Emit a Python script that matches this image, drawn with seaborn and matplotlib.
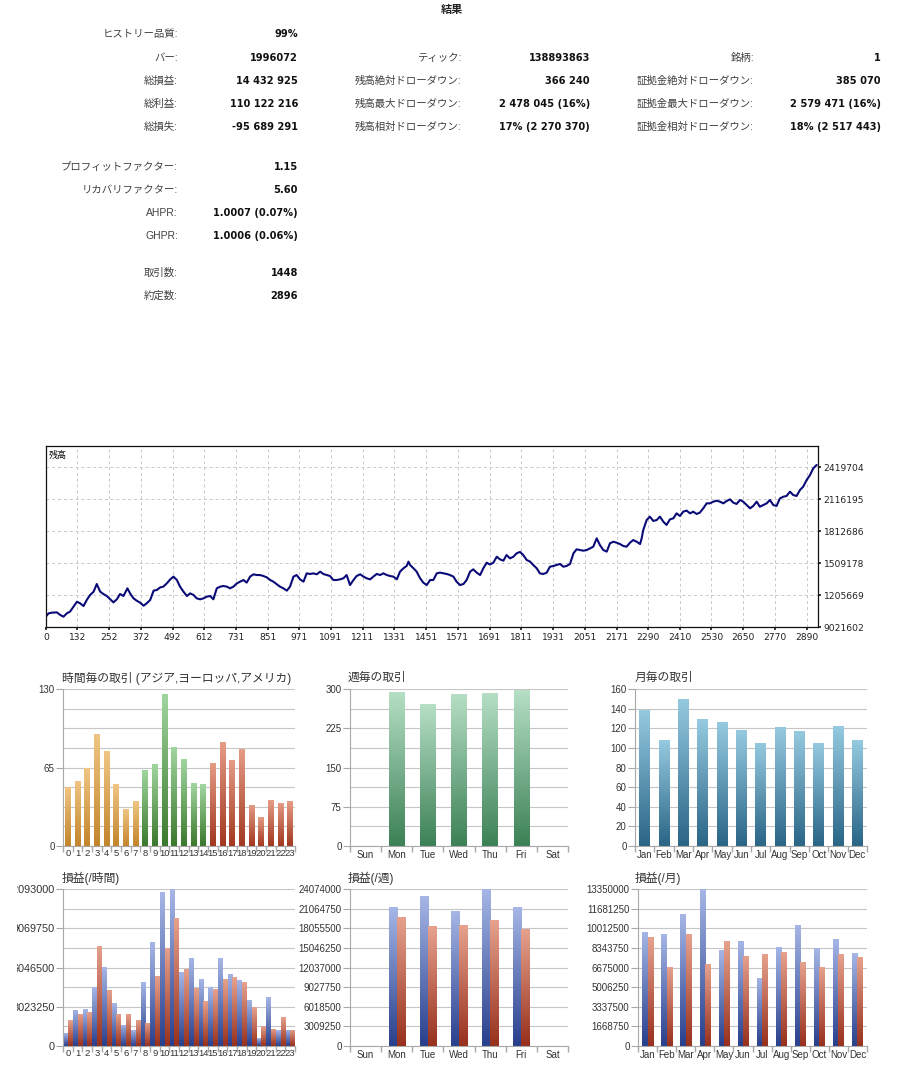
import numpy as np
import pandas as pd
import matplotlib
matplotlib.use("Agg")
import matplotlib.pyplot as plt
import seaborn as sns
from matplotlib.colors import LinearSegmentedColormap
from matplotlib.transforms import Bbox, TransformedBbox

# ==========================
# DATA
# ==========================

col1_labels = ["ヒストリー品質:", "バー:", "総損益:", "総利益:", "総損失:",
               "プロフィットファクター:", "リカバリファクター:", "AHPR:", "GHPR:",
               "取引数:", "約定数:"]
col1_values = ["99%", "1996072", "14 432 925", "110 122 216", "-95 689 291",
               "1.15", "5.60", "1.0007 (0.07%)", "1.0006 (0.06%)", "1448", "2896"]
col2_labels = ["ティック:", "残高絶対ドローダウン:", "残高最大ドローダウン:", "残高相対ドローダウン:"]
col2_values = ["138893863", "366 240", "2 478 045 (16%)", "17% (2 270 370)"]
col3_labels = ["銘柄:", "証拠金絶対ドローダウン:", "証拠金最大ドローダウン:", "証拠金相対ドローダウン:"]
col3_values = ["1", "385 070", "2 579 471 (16%)", "18% (2 517 443)"]

# balance curve (deal number, balance in thousands)
deal_no = [
    12, 23, 35, 54, 67, 79, 92, 104, 117, 130,
    142, 155, 167, 180, 193, 205, 218, 230, 243, 256,
    268, 281, 293, 306, 321, 331, 344, 356, 369, 382,
    394, 407, 420, 432, 445, 457, 470, 483, 495, 508,
    520, 533, 546, 558, 571, 583, 596, 609, 621, 634,
    646, 659, 672, 684, 697, 709, 722, 735, 747, 760,
    772, 785, 798, 810, 823, 835, 848, 861, 873, 886,
    898, 911, 924, 936, 949, 961, 974, 987, 999, 1012,
    1024, 1037, 1050, 1062, 1075, 1087, 1100, 1113, 1125, 1138,
    1150, 1163, 1176, 1188, 1201, 1214, 1226, 1239, 1251, 1264,
    1277, 1289, 1302, 1314, 1327, 1340, 1352, 1365, 1377, 1384,
    1390, 1403, 1415, 1428, 1440, 1453, 1466, 1478, 1491, 1503,
    1516, 1529, 1541, 1554, 1566, 1579, 1592, 1604, 1617, 1629,
    1642, 1655, 1667, 1680, 1692,
    1705, 1718, 1730, 1743, 1755, 1768, 1781, 1793, 1806, 1818,
    1831, 1844, 1856, 1869, 1881, 1894, 1907, 1919, 1932, 1944,
    1957, 1970, 1982, 1995, 2008, 2020, 2033, 2045, 2058, 2071,
    2083, 2096, 2108, 2121, 2134, 2146, 2159, 2171, 2184, 2197,
    2209, 2222, 2234, 2247, 2260, 2266, 2272, 2285, 2297, 2310,
    2323, 2335, 2348, 2360, 2373, 2386, 2398, 2411, 2423, 2436,
    2449, 2461, 2474, 2486, 2499, 2512, 2524, 2537, 2550, 2562,
    2575, 2587, 2600, 2613, 2625, 2638, 2650, 2663, 2676, 2688,
    2701, 2713, 2726, 2739, 2751, 2764, 2776, 2789, 2802, 2814,
    2827, 2839, 2852, 2865, 2877, 2890, 2903, 2915, 2928,
]
balance_k = [
    1000, 1032, 1038, 1041, 1016, 1000, 1032, 1048, 1095, 1142,
    1127, 1101, 1158, 1206, 1237, 1310, 1237, 1215, 1196, 1165,
    1136, 1165, 1215, 1196, 1269, 1221, 1174, 1152, 1133, 1104,
    1127, 1158, 1247, 1253, 1278, 1285, 1316, 1354, 1380, 1348,
    1285, 1237, 1196, 1221, 1206, 1174, 1165, 1174, 1190, 1196,
    1165, 1269, 1285, 1291, 1285, 1269, 1285, 1316, 1332, 1348,
    1323, 1380, 1402, 1395, 1395, 1386, 1373, 1348, 1332, 1307,
    1285, 1269, 1247, 1285, 1380, 1395, 1354, 1332, 1411, 1405,
    1411, 1402, 1427, 1405, 1395, 1386, 1348, 1348, 1354, 1364,
    1395, 1300, 1348, 1386, 1402, 1380, 1364, 1354, 1380, 1405,
    1395, 1411, 1395, 1386, 1380, 1354, 1427, 1459, 1481, 1522,
    1490, 1459, 1427, 1364, 1323, 1300, 1348, 1348, 1411, 1418,
    1411, 1405, 1395, 1380, 1332, 1300, 1310, 1348, 1427, 1449,
    1418, 1395, 1459, 1512, 1495,
    1512, 1569, 1544, 1531, 1585, 1553, 1569, 1601, 1614, 1585,
    1538, 1522, 1490, 1459, 1411, 1405, 1418, 1474, 1481, 1490,
    1500, 1474, 1481, 1500, 1601, 1639, 1632, 1626, 1632, 1648,
    1664, 1743, 1680, 1632, 1617, 1696, 1711, 1702, 1689, 1670,
    1664, 1702, 1727, 1711, 1689, 1743, 1822, 1917, 1949, 1908,
    1917, 1949, 1901, 1870, 1923, 1933, 1980, 1955, 1996, 2006,
    1980, 1996, 1974, 1987, 2028, 2075, 2075, 2091, 2100, 2091,
    2075, 2097, 2113, 2081, 2069, 2107, 2091, 2059, 2028, 2050,
    2091, 2043, 2059, 2075, 2107, 2059, 2050, 2122, 2138, 2145,
    2186, 2154, 2145, 2202, 2233, 2296, 2344, 2407, 2439,
]
bal_xticks = [13, 132, 252, 372, 492, 612, 731, 851, 971, 1091, 1211, 1331, 1451,
              1571, 1691, 1811, 1931, 2051, 2171, 2290, 2410, 2530, 2650, 2770, 2890]
bal_xlabels = ["0"] + [str(v) for v in bal_xticks[1:]]
bal_yticks = [902160, 1205669, 1509178, 1812686, 2116195, 2419704]
bal_ylabels = ["9021602", "1205669", "1509178", "1812686", "2116195", "2419704"]

hour_labels = [str(h) for h in range(24)]
hour_trades = [49, 54, 65, 93, 79, 51, 31, 37, 63, 68, 126, 82, 72, 52, 51,
               69, 86, 71, 80, 34, 24, 38, 36, 37]
hour_session = ["asia"] * 8 + ["europe"] * 7 + ["america"] * 9
hour_profit = [999000, 2793000, 2844000, 4535000, 6072000, 3305000, 1640000, 1204000,
               4894000, 7994000, 11837000, 12093000, 5662000, 6764000, 5124000, 4535000,
               6764000, 5560000, 5047000, 3561000, 615000, 3766000, 1204000, 1255000]
hour_loss = [1973000, 2485000, 2613000, 7738000, 4330000, 2485000, 2485000, 2024000,
             1793000, 5406000, 7558000, 9864000, 5944000, 4458000, 3459000, 4356000,
             5124000, 5304000, 4894000, 2998000, 1537000, 1332000, 2229000, 1255000]

week_days = ["Sun", "Mon", "Tue", "Wed", "Thu", "Fri", "Sat"]
week_trades = [0, 295, 271, 291, 293, 298, 0]
week_profit = [0, 21257000, 22998000, 20693000, 24074000, 21257000, 0]
week_loss = [0, 19823000, 18388000, 18491000, 19310000, 17876000, 0]

months = ["Jan", "Feb", "Mar", "Apr", "May", "Jun", "Jul", "Aug", "Sep", "Oct", "Nov", "Dec"]
month_trades = [139, 108, 150, 129, 126, 118, 105, 121, 117, 105, 122, 108]
month_profit = [9714000, 9487000, 11191000, 13350000, 8152000, 8947000,
                5794000, 8436000, 10282000, 8294000, 9089000, 7868000]
month_loss = [9231000, 6732000, 9515000, 6931000, 8919000, 7669000,
              7783000, 7953000, 7101000, 6732000, 7811000, 7584000]

# gradient colours (top, bottom)
session_colors = {"asia": ("#f0c684", "#c3852b"),
                  "europe": ("#a2d6a0", "#3a7a2c"),
                  "america": ("#e69c86", "#a2381f")}
week_colors = ("#b6dfc5", "#3c8156")
month_colors = ("#95cae0", "#2a6586")
profit_colors = ("#a6b6e6", "#283f8c")
loss_colors = ("#e6a28e", "#97301c")

# ==========================
# SETUP
# ==========================

sns.set_theme(style="white")
plt.rcParams["font.family"] = ["Liberation Sans", "Noto Sans CJK JP", "DejaVu Sans"]

W, H = 898, 1070
fig = plt.figure(figsize=(W / 100, H / 100), dpi=100)
fig.patch.set_facecolor("white")


def px_axes(x0, y0, x1, y1):
    return fig.add_axes([x0 / W, 1 - y1 / H, (x1 - x0) / W, (y1 - y0) / H])


def fig_text(x, y, s, **kw):
    fig.text(x / W, 1 - y / H, s, **kw)


def gradient_fill(ax, patches, colors):
    top, bottom = colors
    cmap = LinearSegmentedColormap.from_list("g", [bottom, top])
    grad = np.linspace(0, 1, 128).reshape(-1, 1)
    for p in patches:
        h = p.get_height()
        if h <= 0:
            continue
        x0, y0, w = p.get_x(), p.get_y(), p.get_width()
        im = ax.imshow(grad, extent=[x0, x0 + w, y0, y0 + h], origin="lower",
                       aspect="auto", cmap=cmap, zorder=2, interpolation="bilinear")
        im.set_clip_path(p)
        p.set_facecolor("none")
        p.set_edgecolor("none")


def style_bars(ax, n, ymax, yticks, ylabels, grid_step, ylabelsize=7):
    ax.set_xlim(-0.5, n - 0.5)
    ax.set_ylim(0, ymax)
    ax.set_yticks(yticks)
    ax.set_yticklabels(ylabels)
    ax.set_yticks(np.arange(0, ymax + grid_step * 0.01, grid_step), minor=True)
    ax.grid(axis="y", which="both", color="#c6c6c6", lw=0.8)
    ax.grid(axis="x", visible=False)
    ax.set_axisbelow(True)
    for s in ["top", "right"]:
        ax.spines[s].set_visible(False)
    for s in ["left", "bottom"]:
        ax.spines[s].set_color("#a8a8a8")
        ax.spines[s].set_linewidth(0.8)
    ax.set_xticks(np.arange(n + 1) - 0.5, minor=True)
    ax.tick_params(axis="x", which="major", bottom=False, length=0, pad=3,
                   labelsize=7, labelcolor="#333333")
    ax.tick_params(axis="x", which="minor", bottom=True, length=4, color="#a8a8a8")
    ax.tick_params(axis="y", which="major", left=True, length=5, width=0.8,
                   color="#a8a8a8", pad=1, labelsize=ylabelsize, labelcolor="#333333")
    ax.tick_params(axis="y", which="minor", left=False, length=0)
    ax.set_xlabel("")
    ax.set_ylabel("")
    ax.set_facecolor("white")


# ==========================
# SUMMARY TABLE
# ==========================

fig_text(452, 10, "結果", ha="center", va="center", fontsize=8, fontweight="bold",
         color="#222222")

lab_kw = dict(ha="right", va="center", fontsize=7.5, color="#404040")
val_kw = dict(ha="right", va="center", fontsize=7.1, fontweight="bold",
              color="#111111", family="DejaVu Sans")

rows1 = [34, 58, 81, 104, 127, 167, 190, 213, 236, 273, 296]
for y, lab, val in zip(rows1, col1_labels, col1_values):
    fig_text(178, y, lab, **lab_kw)
    fig_text(298, y, val, **val_kw)

rows2 = [58, 81, 104, 127]
for y, lab, val in zip(rows2, col2_labels, col2_values):
    fig_text(461, y, lab, **lab_kw)
    fig_text(590, y, val, **val_kw)
for y, lab, val in zip(rows2, col3_labels, col3_values):
    fig_text(754, y, lab, **lab_kw)
    fig_text(881, y, val, **val_kw)

# ==========================
# BALANCE CURVE
# ==========================

ax = px_axes(46, 446, 818, 627)
sns.lineplot(x=deal_no, y=np.array(balance_k) * 1000, ax=ax, color="#0b0b78", lw=1.5)
ax.set_xlim(13, 2933)
ax.set_ylim(902160, 2618900)
ax.set_xticks(bal_xticks)
ax.set_xticklabels(bal_xlabels)
ax.set_yticks(bal_yticks)
ax.set_yticklabels(bal_ylabels)
ax.yaxis.tick_right()
ax.grid(True, ls=(0, (3, 3)), color="#c8c8c8", lw=0.7)
ax.tick_params(axis="both", labelsize=6.6, length=2, color="#222222", pad=2,
               labelcolor="#222222", labelfontfamily="DejaVu Sans")
ax.tick_params(axis="x", bottom=True)
ax.tick_params(axis="y", right=True)
for s in ax.spines.values():
    s.set_color("#111111")
    s.set_linewidth(0.9)
ax.text(0.004, 0.975, "残高", transform=ax.transAxes, fontsize=6.5, va="top",
        color="#111111")
ax.set_xlabel("")
ax.set_ylabel("")

# ==========================
# TRADES PER HOUR / WEEKDAY / MONTH
# ==========================

title_kw = dict(ha="left", va="center", fontsize=8.5, color="#333333")

ax = px_axes(63, 689, 295, 846)
sns.barplot(x=hour_labels, y=hour_trades, order=hour_labels, width=0.6,
            color="#888888", errorbar=None, ax=ax)
for p, sess in zip(ax.containers[0], hour_session):
    gradient_fill(ax, [p], session_colors[sess])
style_bars(ax, 24, 130, [0, 65, 130], ["0", "65", "130"], 16.25)
ax.tick_params(axis="x", which="major", labelsize=6.8, pad=2)
fig_text(62, 678, "時間毎の取引 (アジア,ヨーロッパ,アメリカ)", **title_kw)

ax = px_axes(350, 689, 568, 846)
sns.barplot(x=week_days, y=week_trades, order=week_days, width=0.5,
            color="#888888", errorbar=None, ax=ax)
gradient_fill(ax, ax.containers[0], week_colors)
style_bars(ax, 7, 300, [0, 75, 150, 225, 300], ["0", "75", "150", "225", "300"], 37.5)
fig_text(348, 678, "週毎の取引", **title_kw)

ax = px_axes(635, 689, 867, 846)
sns.barplot(x=months, y=month_trades, order=months, width=0.55,
            color="#888888", errorbar=None, ax=ax)
gradient_fill(ax, ax.containers[0], month_colors)
mt = list(range(0, 161, 20))
style_bars(ax, 12, 160, mt, [str(v) for v in mt], 20)
fig_text(635, 678, "月毎の取引", **title_kw)

# ==========================
# PROFIT / LOSS PER HOUR / WEEKDAY / MONTH
# ==========================


def pl_plot(ax, cats, profit, loss, width):
    df = pd.DataFrame({"cat": cats * 2, "value": profit + loss,
                       "kind": ["profit"] * len(cats) + ["loss"] * len(cats)})
    sns.barplot(data=df, x="cat", y="value", hue="kind", order=cats,
                hue_order=["profit", "loss"], palette=["#4060b0", "#b04030"],
                width=width, errorbar=None, legend=False, ax=ax)
    gradient_fill(ax, ax.containers[0], profit_colors)
    gradient_fill(ax, ax.containers[1], loss_colors)


ax = px_axes(63, 889, 295, 1046)
pl_plot(ax, hour_labels, hour_profit, hour_loss, 0.9)
hp = [0, 3023250, 6046500, 9069750, 12093000]
style_bars(ax, 24, 12093000, hp, [str(v) for v in hp], 1511625, ylabelsize=7.8)
ax.tick_params(axis="x", which="major", labelsize=6.8, pad=2)
clip = TransformedBbox(Bbox.from_extents(17 / W, 0, 1, 1), fig.transFigure)
for lbl in ax.get_yticklabels():
    lbl.set_clip_box(clip)
    lbl.set_clip_on(True)
fig_text(62, 878, "損益(/時間)", **title_kw)

ax = px_axes(350, 889, 568, 1046)
pl_plot(ax, week_days, week_profit, week_loss, 0.52)
wp = [3009250 * k for k in range(9)]
style_bars(ax, 7, 24074000, wp, [str(v) for v in wp], 3009250)
fig_text(348, 878, "損益(/週)", **title_kw)

ax = px_axes(638, 889, 867, 1046)
pl_plot(ax, months, month_profit, month_loss, 0.55)
mp = [1668750 * k for k in range(9)]
style_bars(ax, 12, 13350000, mp, [str(v) for v in mp], 1668750)
fig_text(635, 878, "損益(/月)", **title_kw)

fig.savefig("out.png", dpi=100, facecolor="white")
